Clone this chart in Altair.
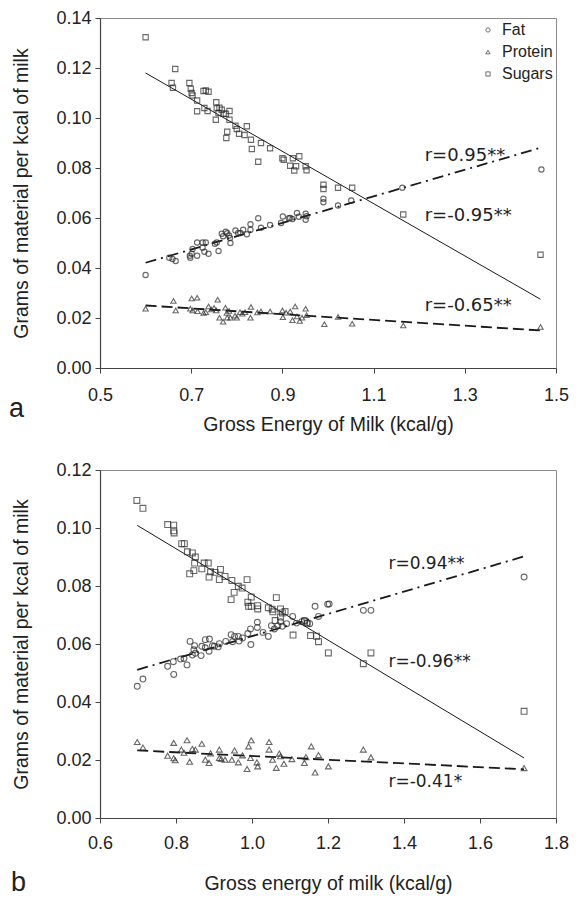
import altair as alt
import pandas as pd

# ---------------- Panel a data ----------------
a_sugar_x = [0.600, 0.665, 0.657, 0.660, 0.696, 0.699, 0.701, 0.703, 0.713, 0.713, 0.727, 0.732,
             0.738, 0.729, 0.736, 0.755, 0.756, 0.754, 0.760, 0.762, 0.767, 0.771, 0.776, 0.779,
             0.777, 0.784, 0.784, 0.797, 0.800, 0.805, 0.817, 0.822, 0.831, 0.833, 0.847, 0.853,
             0.873, 0.900, 0.903, 0.917, 0.923, 0.926, 0.930, 0.937, 0.951, 0.953, 0.990, 0.990,
             1.022, 1.053, 1.165, 1.466]
a_sugar_y = [0.1323, 0.1196, 0.1140, 0.1121, 0.1140, 0.1117, 0.1100, 0.1090, 0.1070, 0.1027, 0.1108, 0.1110,
             0.1105, 0.1040, 0.1028, 0.1063, 0.1039, 0.0993, 0.1020, 0.1041, 0.1033, 0.1017, 0.1017, 0.0945,
             0.0920, 0.1028, 0.0993, 0.0969, 0.0956, 0.0937, 0.0932, 0.0967, 0.0913, 0.0876, 0.0825, 0.0900,
             0.0879, 0.0839, 0.0833, 0.0809, 0.0839, 0.0790, 0.0807, 0.0847, 0.0807, 0.0791, 0.0733, 0.0716,
             0.0721, 0.0721, 0.0614, 0.0453]
a_fat_x = [0.600, 0.652, 0.659, 0.666, 0.697, 0.701, 0.698, 0.703, 0.713, 0.713, 0.725, 0.725,
           0.732, 0.729, 0.738, 0.752, 0.760, 0.756, 0.767, 0.770, 0.776, 0.779, 0.783, 0.786,
           0.785, 0.797, 0.803, 0.808, 0.814, 0.822, 0.830, 0.830, 0.847, 0.853, 0.873, 0.897,
           0.901, 0.914, 0.917, 0.922, 0.932, 0.936, 0.951, 0.951, 0.953, 0.990, 0.990, 1.022,
           1.051, 1.163, 1.468]
a_fat_y = [0.0372, 0.0441, 0.0436, 0.0428, 0.0449, 0.0457, 0.0441, 0.0476, 0.0449, 0.0502, 0.0481, 0.0502,
           0.0502, 0.0465, 0.0457, 0.0497, 0.0468, 0.0502, 0.0537, 0.0527, 0.0545, 0.0539, 0.0530, 0.0500,
           0.0520, 0.0550, 0.0540, 0.0540, 0.0553, 0.0535, 0.0575, 0.0553, 0.0599, 0.0561, 0.0572, 0.0580,
           0.0606, 0.0599, 0.0600, 0.0596, 0.0620, 0.0605, 0.0593, 0.0617, 0.0607, 0.0663, 0.0677, 0.0650,
           0.0670, 0.0721, 0.0794]
a_protein_x = [0.600, 0.661, 0.666, 0.701, 0.713, 0.698, 0.703, 0.714, 0.727, 0.732, 0.738, 0.744,
               0.750, 0.758, 0.755, 0.762, 0.770, 0.775, 0.778, 0.779, 0.783, 0.786, 0.796, 0.800,
               0.807, 0.812, 0.818, 0.830, 0.831, 0.845, 0.853, 0.873, 0.900, 0.901, 0.908, 0.917,
               0.922, 0.928, 0.932, 0.938, 0.943, 0.951, 0.953, 0.992, 1.022, 1.053, 1.165, 1.466]
a_protein_y = [0.0237, 0.0268, 0.0230, 0.0278, 0.0281, 0.0237, 0.0230, 0.0227, 0.0220, 0.0223, 0.0246, 0.0234,
               0.0240, 0.0273, 0.0230, 0.0201, 0.0185, 0.0241, 0.0220, 0.0201, 0.0228, 0.0201, 0.0209, 0.0201,
               0.0223, 0.0217, 0.0223, 0.0201, 0.0244, 0.0222, 0.0226, 0.0226, 0.0230, 0.0203, 0.0221, 0.0226,
               0.0191, 0.0246, 0.0206, 0.0188, 0.0201, 0.0237, 0.0211, 0.0175, 0.0204, 0.0177, 0.0170, 0.0164]

a_fit_x = [0.600, 1.466]
a_fat_fit = [0.0421, 0.0881]
a_protein_fit = [0.0250, 0.0150]
a_sugar_fit = [0.1180, 0.0275]
a_r_text = ["r=0.95**", "r=-0.95**", "r=-0.65**"]

# ---------------- Panel b data ----------------
b_sugar_x = [0.697, 0.713, 0.778, 0.794, 0.794, 0.795, 0.815, 0.822, 0.830, 0.843, 0.851, 0.849,
             0.836, 0.847, 0.874, 0.885, 0.868, 0.891, 0.903, 0.917, 0.887, 0.914, 0.929, 0.947,
             0.964, 0.974, 0.987, 0.953, 0.945, 0.998, 0.989, 0.991, 0.998, 1.015, 1.015, 1.043,
             1.053, 1.064, 1.055, 1.075, 1.080, 1.087, 1.075, 1.061, 1.108, 1.138, 1.145, 1.154,
             1.170, 1.175, 1.201, 1.293, 1.313, 1.716]
b_sugar_y = [0.1095, 0.1068, 0.1012, 0.1010, 0.0990, 0.0983, 0.0946, 0.0946, 0.0918, 0.0914, 0.0900, 0.0879,
             0.0842, 0.0853, 0.0879, 0.0879, 0.0859, 0.0849, 0.0847, 0.0857, 0.0831, 0.0822, 0.0833, 0.0819,
             0.0799, 0.0793, 0.0822, 0.0778, 0.0753, 0.0762, 0.0744, 0.0730, 0.0730, 0.0732, 0.0721, 0.0725,
             0.0720, 0.0760, 0.0711, 0.0693, 0.0707, 0.0712, 0.0721, 0.0681, 0.0631, 0.0679, 0.0672, 0.0629,
             0.0627, 0.0608, 0.0569, 0.0532, 0.0569, 0.0368]
b_fat_x = [0.698, 0.713, 0.778, 0.794, 0.793, 0.812, 0.829, 0.821, 0.837, 0.843, 0.847, 0.851,
           0.849, 0.866, 0.868, 0.877, 0.877, 0.887, 0.888, 0.896, 0.901, 0.911, 0.914, 0.931,
           0.945, 0.949, 0.954, 0.964, 0.966, 0.975, 0.989, 0.996, 0.997, 1.014, 1.014, 1.029,
           1.043, 1.051, 1.059, 1.068, 1.075, 1.080, 1.091, 1.107, 1.117, 1.131, 1.138, 1.145,
           1.152, 1.166, 1.175, 1.199, 1.203, 1.293, 1.313, 1.716]
b_fat_y = [0.0454, 0.0479, 0.0523, 0.0495, 0.0539, 0.0548, 0.0528, 0.0550, 0.0609, 0.0562, 0.0580, 0.0568,
           0.0594, 0.0560, 0.0592, 0.0587, 0.0615, 0.0575, 0.0617, 0.0594, 0.0592, 0.0590, 0.0601, 0.0609,
           0.0632, 0.0608, 0.0626, 0.0626, 0.0610, 0.0621, 0.0636, 0.0652, 0.0598, 0.0675, 0.0657, 0.0640,
           0.0626, 0.0663, 0.0652, 0.0663, 0.0677, 0.0661, 0.0670, 0.0695, 0.0672, 0.0677, 0.0681, 0.0672,
           0.0670, 0.0730, 0.0695, 0.0737, 0.0738, 0.0716, 0.0716, 0.0831]
b_protein_x = [0.698, 0.713, 0.778, 0.794, 0.794, 0.798, 0.814, 0.821, 0.829, 0.836, 0.843, 0.851,
               0.868, 0.877, 0.887, 0.891, 0.914, 0.914, 0.919, 0.929, 0.947, 0.954, 0.964, 0.975,
               0.987, 0.991, 0.998, 0.996, 1.013, 1.015, 1.045, 1.045, 1.054, 1.064, 1.072, 1.075,
               1.084, 1.105, 1.138, 1.142, 1.156, 1.166, 1.175, 1.201, 1.293, 1.313, 1.716]
b_protein_y = [0.0262, 0.0243, 0.0215, 0.0259, 0.0206, 0.0199, 0.0236, 0.0225, 0.0268, 0.0194, 0.0238, 0.0236,
               0.0256, 0.0201, 0.0190, 0.0223, 0.0236, 0.0207, 0.0204, 0.0201, 0.0201, 0.0233, 0.0192, 0.0216,
               0.0169, 0.0247, 0.0268, 0.0207, 0.0192, 0.0178, 0.0262, 0.0236, 0.0201, 0.0173, 0.0222, 0.0213,
               0.0187, 0.0203, 0.0190, 0.0210, 0.0247, 0.0157, 0.0217, 0.0178, 0.0236, 0.0209, 0.0172]

b_fit_x = [0.698, 1.716]
b_fat_fit = [0.0511, 0.0902]
b_protein_fit = [0.0233, 0.0168]
b_sugar_fit = [0.1009, 0.0207]
b_r_text = ["r=0.94**", "r=-0.96**", "r=-0.41*"]

nutrients = ["Fat", "Protein", "Sugars"]
shapes = ["circle", "triangle-up", "square"]

FONT = "Liberation Sans"
INK = "#222222"


def points_df(fx, fy, px, py, sx, sy):
    parts = []
    for name, xs, ys in [("Fat", fx, fy), ("Protein", px, py), ("Sugars", sx, sy)]:
        parts.append(pd.DataFrame({"x": xs, "y": ys, "Nutrient": name}))
    return pd.concat(parts, ignore_index=True)


def panel(pts, fit_x, fat_fit, prot_fit, sug_fit, r_text, r_pos, xdom, xvals, ydom, yvals,
          xtitle, letter, letter_pos, w, h, show_legend, r_size, pt_size, lab_pad, title_pad):
    xs = alt.Scale(domain=xdom, nice=False, zero=False)
    ys = alt.Scale(domain=ydom, nice=False, zero=False)
    xax = alt.Axis(values=xvals, format=".1f", title=xtitle, grid=False, labelFlush=False,
                   labelPadding=lab_pad, titlePadding=title_pad)
    yax = alt.Axis(values=yvals, format=".2f", title="Grams of material per kcal of milk", grid=False)

    if show_legend:
        leg = alt.Legend(orient="none", legendX=380, legendY=4, title=None,
                         labelFontSize=16, labelFont=FONT, labelColor=INK,
                         symbolSize=18, symbolStrokeWidth=1, symbolStrokeColor="#333",
                         symbolFillColor="white", rowPadding=6, labelOffset=6)
    else:
        leg = None

    base_pts = alt.Chart(pts).mark_point(filled=False, strokeWidth=1.1, color="#2a2a2a", size=pt_size).encode(
        x=alt.X("x:Q", scale=xs, axis=xax),
        y=alt.Y("y:Q", scale=ys, axis=yax),
        shape=alt.Shape("Nutrient:N", scale=alt.Scale(domain=nutrients, range=shapes), legend=leg),
    )

    def fit_layer(vals, dash, width):
        df = pd.DataFrame({"x": fit_x, "y": vals})
        kw = dict(color="#1a1a1a", strokeWidth=width)
        if dash:
            kw["strokeDash"] = dash
        return alt.Chart(df).mark_line(**kw).encode(
            x=alt.X("x:Q", scale=xs), y=alt.Y("y:Q", scale=ys))

    fat_line = fit_layer(fat_fit, [11, 5, 2, 5], 1.8)
    prot_line = fit_layer(prot_fit, [11, 5], 1.8)
    sug_line = fit_layer(sug_fit, None, 1.0)

    rdf = pd.DataFrame({"x": [p[0] for p in r_pos], "y": [p[1] for p in r_pos], "t": r_text})
    rlab = alt.Chart(rdf).mark_text(align="left", baseline="middle", font="DejaVu Sans",
                                    fontSize=r_size, color=INK).encode(
        x=alt.X("x:Q", scale=xs), y=alt.Y("y:Q", scale=ys), text="t:N")

    ldf = pd.DataFrame({"t": [letter]})
    let = alt.Chart(ldf).mark_text(align="left", baseline="middle", font=FONT, fontSize=27,
                                   color=INK).encode(
        text="t:N", x=alt.value(letter_pos[0]), y=alt.value(letter_pos[1]))

    return alt.layer(sug_line, fat_line, prot_line, base_pts, rlab, let).properties(width=w, height=h)


pts_a = points_df(a_fat_x, a_fat_y, a_protein_x, a_protein_y, a_sugar_x, a_sugar_y)
pts_b = points_df(b_fat_x, b_fat_y, b_protein_x, b_protein_y, b_sugar_x, b_sugar_y)

chart_a = panel(pts_a, a_fit_x, a_fat_fit, a_protein_fit, a_sugar_fit, a_r_text,
                [(1.212, 0.085), (1.212, 0.061), (1.212, 0.025)],
                [0.5, 1.5], [0.5, 0.7, 0.9, 1.1, 1.3, 1.5],
                [0, 0.14], [0, 0.02, 0.04, 0.06, 0.08, 0.10, 0.12, 0.14],
                "Gross Energy of Milk (kcal/g)", "a", (-91, 391), 456, 350, True, 18, 28, 13, 11)

chart_b = panel(pts_b, b_fit_x, b_fat_fit, b_protein_fit, b_sugar_fit, b_r_text,
                [(1.359, 0.0877), (1.359, 0.0539), (1.359, 0.0123)],
                [0.6, 1.8], [0.6, 0.8, 1.0, 1.2, 1.4, 1.6, 1.8],
                [0, 0.12], [0, 0.02, 0.04, 0.06, 0.08, 0.10, 0.12],
                "Gross energy of milk (kcal/g)", "b", (-89, 413), 456, 348, False, 17, 34, 11, 22)

chart = alt.vconcat(chart_a, chart_b, spacing=26).resolve_legend(shape="independent").configure(
    padding={"left": 0, "top": 0, "right": 0, "bottom": 0}
).configure_view(
    stroke="#8c8c8c", strokeWidth=1
).configure_axis(
    labelFont=FONT, titleFont=FONT, labelFontSize=18, titleFontSize=19.5,
    labelColor=INK, titleColor=INK, titleFontWeight="normal",
    domainColor="#444444", tickColor="#444444", tickSize=5, domainWidth=1.2,
    labelPadding=4
).configure_axisY(
    titlePadding=24
)

chart.save("out.html", embed_options={"renderer": "svg", "actions": False})
